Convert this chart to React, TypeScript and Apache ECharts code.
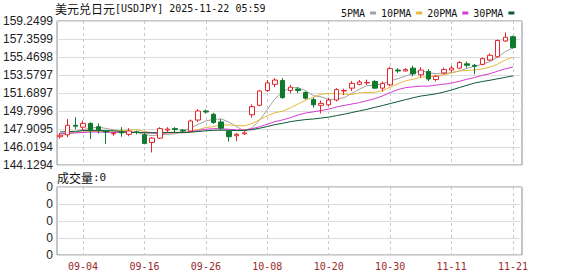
import React, { useEffect, useRef } from "react";
import * as echarts from "echarts";

const categories = [
  "09-01","09-02","09-03","09-04","09-05","09-08","09-09","09-10","09-11","09-12",
  "09-15","09-16","09-17","09-18","09-19","09-22","09-23","09-24","09-25","09-26",
  "09-29","09-30","10-01","10-02","10-03","10-06","10-07","10-08","10-09","10-10",
  "10-13","10-14","10-15","10-16","10-17","10-20","10-21","10-22","10-23","10-24",
  "10-27","10-28","10-29","10-30","10-31","11-03","11-04","11-05","11-06","11-07",
  "11-10","11-11","11-12","11-13","11-14","11-17","11-18","11-19","11-20","11-21",
];
const labelDates = ["09-04","09-16","09-26","10-08","10-20","10-30","11-11","11-21"];

const openValues = [
  147.1,147.3,148.3,148.1,148.5,148.15,147.7,147.4,147.6,147.35,
  147.6,147.3,146.5,146.95,147.8,147.95,147.8,147.7,148.85,149.8,
  149.45,148.65,147.65,147.2,147.4,149.4,150.4,151.95,152.6,153.0,
  151.95,152.1,151.75,151.0,150.4,150.45,150.95,151.9,152.2,152.6,
  152.75,152.9,152.2,152.55,154.1,154.0,154.3,153.6,153.95,153.1,
  153.8,154.1,154.3,154.75,154.6,154.7,155.15,155.5,157.15,157.6,
];
const closeValues = [
  147.25,148.3,148.2,148.5,147.75,147.8,147.6,147.45,147.5,147.7,
  147.55,146.4,146.95,147.95,147.9,147.85,147.7,148.75,149.8,149.7,
  148.6,148.0,147.1,147.35,147.5,150.25,151.9,152.75,153.05,151.2,
  152.3,151.95,151.15,150.45,150.6,150.95,152.05,151.95,152.7,152.85,
  152.8,152.2,152.7,154.25,154.0,154.15,153.7,154.1,153.15,153.45,
  154.15,154.3,154.9,154.6,154.5,155.3,155.65,157.2,157.55,156.45,
];
const lowValues = [
  146.9,147.05,147.9,147.8,146.85,147.45,146.35,147.2,147.1,147.15,
  147.35,146.3,145.45,146.85,147.6,147.6,147.55,147.6,148.65,149.55,
  148.45,147.8,146.6,146.65,147.3,149.1,150.3,151.8,152.3,151.1,
  151.65,151.7,151.0,150.15,149.55,150.3,150.8,151.5,151.9,152.5,
  152.55,152.1,151.85,152.4,153.8,153.95,153.45,153.3,152.95,152.9,
  153.65,153.85,154.2,154.35,153.65,154.6,155.05,155.4,157.05,156.35,
];
const highValues = [
  147.5,148.95,149.15,148.8,148.6,148.5,147.8,147.6,148.1,148.0,
  147.75,147.5,147.05,148.1,148.1,148.1,147.9,148.9,150.0,149.95,
  149.6,148.95,147.75,147.5,147.7,150.5,152.0,153.05,153.25,153.25,
  152.55,152.3,151.85,151.2,150.9,151.2,152.2,152.15,152.95,153.05,
  153.1,153.05,152.9,154.45,154.3,154.3,154.55,154.4,154.2,153.6,
  154.35,154.55,155.05,155.0,154.75,155.4,155.85,157.3,158.05,157.7,
];

const ma5 = [
  147.21,147.39,147.55,147.85,147.99,148.11,147.97,147.82,147.62,147.61,
  147.56,147.32,147.22,147.31,147.35,147.41,147.67,148.03,148.40,148.76,
  148.91,148.97,148.64,148.15,147.71,148.04,148.82,149.95,151.09,151.83,
  152.24,152.25,151.93,151.41,151.29,151.02,151.04,151.20,151.65,152.10,
  152.47,152.50,152.65,152.96,153.19,153.46,153.76,154.04,153.82,153.71,
  153.71,153.83,153.99,154.28,154.49,154.72,154.99,155.45,156.04,156.43,
];
const ma10 = [
  147.41,147.47,147.56,147.57,147.65,147.66,147.68,147.69,147.74,147.80,
  147.84,147.65,147.52,147.47,147.48,147.49,147.50,147.63,147.86,148.06,
  148.16,148.32,148.34,148.28,148.24,148.48,148.90,149.30,149.62,149.77,
  150.14,150.54,150.94,151.25,151.56,151.63,151.65,151.57,151.53,151.70,
  151.75,151.77,151.93,152.31,152.65,152.97,153.13,153.35,153.39,153.45,
  153.59,153.80,154.02,154.05,154.10,154.22,154.41,154.72,155.16,155.46,
];
const ma20 = [
  147.41,147.47,147.50,147.55,147.59,147.59,147.57,147.55,147.55,147.55,
  147.57,147.51,147.49,147.47,147.52,147.52,147.54,147.61,147.75,147.88,
  147.95,147.93,147.88,147.82,147.81,147.93,148.15,148.41,148.69,148.86,
  149.10,149.38,149.59,149.71,149.85,150.00,150.22,150.38,150.53,150.68,
  150.89,151.10,151.38,151.73,152.05,152.25,152.34,152.41,152.41,152.52,
  152.62,152.73,152.92,153.13,153.32,153.54,153.72,153.98,154.23,154.41,
];
const ma30 = [
  147.60,147.63,147.67,147.74,147.76,147.76,147.73,147.72,147.65,147.55,
  147.55,147.53,147.51,147.52,147.55,147.56,147.54,147.57,147.65,147.72,
  147.77,147.78,147.77,147.74,147.76,147.84,147.99,148.17,148.37,148.51,
  148.68,148.80,148.90,148.96,149.06,149.16,149.31,149.46,149.64,149.81,
  149.98,150.18,150.37,150.58,150.78,150.99,151.19,151.37,151.48,151.61,
  151.79,152.00,152.26,152.50,152.74,152.90,153.03,153.18,153.33,153.50,
];
const volumeValues = categories.map(() => 0);

const priceTicks = ["144.1294","146.0194","147.9095","149.7996","151.6897","153.5797","155.4698","157.3599","159.2499"];
const volumeTicks = ["0","0","0","0","0"];
const priceMin = 144.1294;
const priceMax = 159.2499;

const UP = "#e3262a";
const DOWN = "#0f7a2c";
const MONO = "'DejaVu Sans Mono', monospace";
const CJK = "'Noto Sans CJK SC', sans-serif";
const SANS = "'Liberation Sans', Arial, sans-serif";

export default function App() {
  const ref = useRef<HTMLDivElement>(null);
  useEffect(() => {
    if (!ref.current) return;
    const chart = echarts.init(ref.current, null, { renderer: "svg" });
    const candleData = categories.map((_, i) => [openValues[i], closeValues[i], lowValues[i], highValues[i]]);
    const showIdx = (i: number) => labelDates.includes(categories[i]);
    const dashed = { show: true, interval: (i: number) => showIdx(i), alignWithLabel: true, lineStyle: { color: "#c8c8c8", type: [3, 3] as any, width: 1 } };
    const candleLeft = 56.16;
    const candleWidth = 460.7;
    const maSeries = (name: string, data: number[], color: string) => ({
      name, type: "line", xAxisIndex: 1, yAxisIndex: 1, data, symbol: "none",
      lineStyle: { color, width: 1 }, itemStyle: { color }, z: 3,
    });
    chart.setOption({
      animation: false,
      backgroundColor: "#fff",
      legend: {
        left: 336, top: 3, align: "right", icon: "rect", itemWidth: 6, itemHeight: 3, itemGap: 5,
        textStyle: { fontFamily: MONO, fontSize: 10, color: "#111" },
        data: ["5PMA", "10PMA", "20PMA", "30PMA"],
      },
      grid: [
        { left: 57, top: 21, width: 465, height: 144, show: true, borderColor: "#8c8c8c", borderWidth: 1, backgroundColor: "transparent" },
        { left: candleLeft, top: 21, width: candleWidth, height: 144 },
        { left: 57, top: 187, width: 465, height: 68, show: true, borderColor: "#8c8c8c", borderWidth: 1, backgroundColor: "transparent" },
        { left: candleLeft, top: 187, width: candleWidth, height: 68 },
      ],
      xAxis: [
        { type: "value", gridIndex: 0, min: 0, max: 1, show: false },
        { type: "category", gridIndex: 1, data: categories, axisLine: { show: false }, axisTick: { show: false }, axisLabel: { show: false }, splitLine: dashed },
        { type: "value", gridIndex: 2, min: 0, max: 1, show: false },
        {
          type: "category", gridIndex: 3, data: categories, axisLine: { show: false }, axisTick: { show: false },
          axisLabel: { show: true, interval: (i: number) => showIdx(i), color: "#9a2a2a", fontFamily: MONO, fontSize: 10, margin: 6 },
          splitLine: dashed,
        },
      ],
      yAxis: [
        {
          type: "value", gridIndex: 0, min: 0, max: 8, interval: 1,
          axisLine: { show: false }, axisTick: { show: false },
          axisLabel: { formatter: (v: number) => priceTicks[Math.round(v)], color: "#222", fontFamily: SANS, fontSize: 12, margin: 4 },
          splitLine: { show: true, lineStyle: { color: "#dcdcdc", width: 1 } },
        },
        { type: "value", gridIndex: 1, min: priceMin, max: priceMax, show: false },
        {
          type: "value", gridIndex: 2, min: 0, max: 4, interval: 1,
          axisLine: { show: false }, axisTick: { show: false },
          axisLabel: { formatter: (v: number) => volumeTicks[Math.round(v)], color: "#222", fontFamily: SANS, fontSize: 12, margin: 4 },
          splitLine: { show: true, lineStyle: { color: "#dcdcdc", width: 1 } },
        },
        { type: "value", gridIndex: 3, min: 0, max: 4, show: false },
      ],
      graphic: [
        {
          type: "text", left: 55, top: 2,
          style: {
            text: "{c|美元兑日元}{a|[USDJPY] 2025-11-22 05:59}",
            rich: {
              c: { fontFamily: CJK, fontSize: 12, fill: "#111" },
              a: { fontFamily: MONO, fontSize: 10, fill: "#111" },
            },
          },
        },
        {
          type: "text", left: 57, top: 171,
          style: {
            text: "{c|成交量}{a|:0}",
            rich: {
              c: { fontFamily: CJK, fontSize: 12, fill: "#111" },
              a: { fontFamily: MONO, fontSize: 11, fill: "#111" },
            },
          },
        },
      ],
      series: [
        {
          name: "K", type: "candlestick", xAxisIndex: 1, yAxisIndex: 1, data: candleData, barWidth: 5,
          itemStyle: { color: "#ffffff", color0: DOWN, borderColor: UP, borderColor0: DOWN, borderWidth: 1 },
          z: 4,
        },
        maSeries("5PMA", ma5, "#a0a0a0"),
        maSeries("10PMA", ma10, "#e6b83c"),
        maSeries("20PMA", ma20, "#d43ad4"),
        maSeries("30PMA", ma30, "#0e5a34"),
        { name: "VOL", type: "bar", xAxisIndex: 3, yAxisIndex: 3, data: volumeValues, barWidth: 5, itemStyle: { color: DOWN } },
      ],
    });
    return () => chart.dispose();
  }, []);
  return <div ref={ref} style={{ position: "fixed", left: 0, top: 0, width: 578, height: 276, background: "#fff" }} />;
}
